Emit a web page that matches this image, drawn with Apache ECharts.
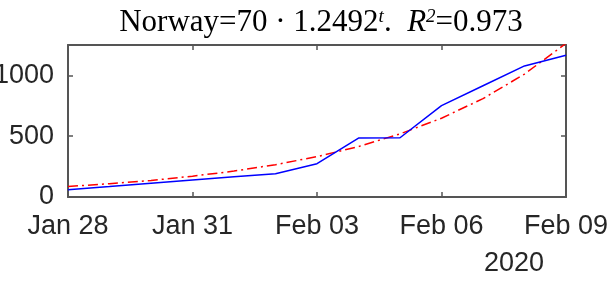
<!DOCTYPE html>
<html>
<head>
<meta charset="utf-8">
<script src="https://cdn.jsdelivr.net/npm/echarts@6/dist/echarts.min.js"></script>
<style>
  html, body { margin: 0; padding: 0; background: #fff; }
  #chart { width: 611px; height: 281px; }
</style>
</head>
<body>
<div id="chart"></div>
<script>
// days since Jan 28, 2020
const days = [0, 1, 2, 3, 4, 5, 6, 7, 8, 9, 10, 11, 12]
// reported cases (blue)
const cases = [60, 86, 113, 140, 166, 192, 274, 485, 487, 752, 915, 1078, 1166]
// exponential fit 70*1.2492^t (red dash-dot)
const fit = [87, 109, 136, 171, 213, 266, 332, 415, 519, 648, 809, 1011, 1263]
const xTickLabels = ['Jan 28', 'Jan 31', 'Feb 03', 'Feb 06', 'Feb 09']
const yTicks = [0, 500, 1000]

const chart = echarts.init(document.getElementById('chart'))
const axisColor = '#555'
const labelFont = 'Liberation Sans, Arial, sans-serif'

// box axis helper: line + inward ticks, no labels
const frameLine = { show: true, onZero: false, lineStyle: { color: axisColor, width: 2 } }
const frameTick = { show: true, inside: true, length: 5, lineStyle: { color: axisColor, width: 1.5 } }

const option = {
  animation: false,
  title: {
    text: 'Norway=70 · 1.2492{sup|t}.  {it|R}{sup|2}=0.973',
    left: 316,
    textAlign: 'center',
    top: 2,
    textStyle: {
      fontFamily: 'Liberation Serif, Times New Roman, serif',
      fontSize: 31,
      fontWeight: 'normal',
      color: '#000',
      rich: {
        sup: {
          fontFamily: 'Liberation Serif, serif',
          fontStyle: 'italic',
          fontSize: 19,
          verticalAlign: 'top',
          padding: [0, 0, 12, 0],
          color: '#000'
        },
        it: {
          fontFamily: 'Liberation Serif, serif',
          fontStyle: 'italic',
          fontSize: 31,
          color: '#000'
        }
      }
    }
  },
  grid: {
    left: 68,
    right: 45,
    top: 45,
    bottom: 84,
    containLabel: false,
    outerBoundsMode: 'none'
  },
  xAxis: [
    {
      type: 'value',
      min: 0,
      max: 12,
      interval: 3,
      axisLine: frameLine,
      axisTick: frameTick,
      splitLine: { show: false },
      axisLabel: {
        color: '#262626',
        fontSize: 27,
        fontFamily: labelFont,
        margin: 16,
        formatter: (v) => xTickLabels[v / 3]
      }
    },
    {
      type: 'value',
      position: 'top',
      min: 0,
      max: 12,
      interval: 3,
      axisLine: frameLine,
      axisTick: frameTick,
      splitLine: { show: false },
      axisLabel: { show: false }
    }
  ],
  yAxis: [
    {
      type: 'value',
      min: 0,
      max: 1250,
      interval: 500,
      axisLine: frameLine,
      axisTick: frameTick,
      splitLine: { show: false },
      axisLabel: {
        color: '#262626',
        fontSize: 27,
        fontFamily: labelFont,
        margin: 14,
        showMaxLabel: false,
        formatter: (v) => (yTicks.includes(v) ? String(v) : '')
      }
    },
    {
      type: 'value',
      position: 'right',
      min: 0,
      max: 1250,
      interval: 500,
      axisLine: frameLine,
      axisTick: frameTick,
      splitLine: { show: false },
      axisLabel: { show: false }
    }
  ],
  graphic: [
    {
      type: 'text',
      left: 484,
      top: 250,
      style: {
        text: '2020',
        fontSize: 27,
        fontFamily: labelFont,
        fill: '#262626'
      }
    }
  ],
  series: [
    {
      name: 'cases',
      type: 'line',
      data: days.map((d, i) => [d, cases[i]]),
      showSymbol: false,
      lineStyle: { color: '#0000ff', width: 1.5 },
      z: 3
    },
    {
      name: 'fit',
      type: 'line',
      data: days.map((d, i) => [d, fit[i]]),
      showSymbol: false,
      lineStyle: { color: '#ff0000', width: 1.5, type: [10, 4, 2, 4] },
      z: 2
    }
  ]
}
chart.setOption(option)
</script>
</body>
</html>
